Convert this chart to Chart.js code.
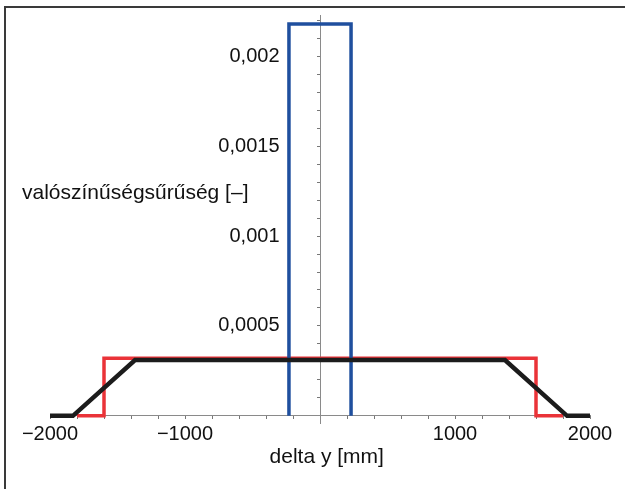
<!DOCTYPE html>
<html>
<head>
<meta charset="utf-8">
<script src="https://cdn.jsdelivr.net/npm/chart.js@4"></script>
<style>
  body { margin: 0; background: #fff; }
  #wrap { width: 625px; height: 489px; }
</style>
</head>
<body>
<div id="wrap"><canvas id="densityChart" width="625" height="489"></canvas></div>
<script>
// delta y [mm] and probability density for the three distributions
const blueX = [-230, -230, 230, 230];
const blueY = [0, 0.00218, 0.00218, 0];
const redX = [-1800, -1600, -1600, 1600, 1600, 1800];
const redY = [0, 0, 0.00032, 0.00032, 0, 0];
const blackX = [-2000, -1830, -1370, 1370, 1830, 2000];
const blackY = [0, 0, 0.00031, 0.00031, 0, 0];

const xLabels = [-2000, -1000, 1000, 2000];
const yLabels = [0.0005, 0.001, 0.0015, 0.002];

const xTitle = "delta y [mm]";
const yTitle = "valószínűségsűrűség [–]";

const font = { family: "'Liberation Sans', Arial, Helvetica, sans-serif", size: 20 };

function toPoints(xs, ys) {
  return xs.map((x, i) => ({ x: x, y: ys[i] }));
}

function fmt(v) {
  const r = Math.round(v * 10000) / 10000;
  return String(r).replace(".", ",").replace("-", "\u2212");
}

const framePlugin = {
  id: "frame",
  afterDraw(chart) {
    const ctx = chart.ctx;
    const area = chart.chartArea;
    ctx.save();
    ctx.strokeStyle = "#3a3a3a";
    ctx.lineWidth = 2;
    ctx.strokeRect(5, 7, 700, 600);
    ctx.fillStyle = "#111";
    ctx.font = "21px " + font.family;
    ctx.textBaseline = "middle";
    ctx.textAlign = "left";
    ctx.fillText(yTitle, 22, 193);
    ctx.textAlign = "center";
    ctx.fillText(xTitle, chart.scales.x.getPixelForValue(50), area.bottom + 34);
    ctx.restore();
  },
};

const ctx = document.getElementById("densityChart").getContext("2d");

new Chart(ctx, {
  type: "scatter",
  data: {
    datasets: [
      {
        data: toPoints(blackX, blackY),
        borderColor: "#1c1c1c",
        borderWidth: 4.5,
      },
      {
        data: toPoints(blueX, blueY),
        borderColor: "#1f4f9e",
        borderWidth: 3.5,
      },
      {
        data: toPoints(redX, redY),
        borderColor: "#ea3338",
        borderWidth: 3.5,
      },
    ].map((d) => Object.assign(d, { showLine: true, pointRadius: 0, fill: false, tension: 0 })),
  },
  options: {
    responsive: false,
    animation: false,
    layout: { padding: { left: 50, right: 35, top: 15, bottom: 66 } },
    plugins: { legend: { display: false }, tooltip: { enabled: false } },
    scales: {
      x: {
        type: "linear",
        position: { y: 0 },
        min: -2000,
        max: 2000,
        border: { color: "#8a8a8a", width: 1 },
        grid: { drawOnChartArea: false, tickLength: 3, color: "#777" },
        ticks: {
          stepSize: 200,
          includeBounds: false,
          autoSkip: false,
          maxRotation: 0,
          padding: 4,
          color: "#111",
          font: font,
          callback: (v) => (xLabels.includes(v) ? fmt(v) : ""),
        },
      },
      y: {
        type: "linear",
        position: { x: 0 },
        min: -0.00004,
        max: 0.00223,
        border: { color: "#8a8a8a", width: 1 },
        grid: { drawOnChartArea: false, tickLength: 3, color: "#777" },
        ticks: {
          stepSize: 0.0001,
          includeBounds: false,
          autoSkip: false,
          callback: () => "",
        },
      },
      yl: {
        type: "linear",
        position: { x: -300 },
        min: -0.00004,
        max: 0.00223,
        border: { display: false },
        grid: { display: false },
        ticks: {
          stepSize: 0.0005,
          includeBounds: false,
          autoSkip: false,
          color: "#111",
          font: font,
          callback: (v) => (yLabels.some((t) => Math.abs(t - v) < 1e-9) ? fmt(v) : ""),
        },
      },
    },
  },
  plugins: [framePlugin],
});
</script>
</body>
</html>
